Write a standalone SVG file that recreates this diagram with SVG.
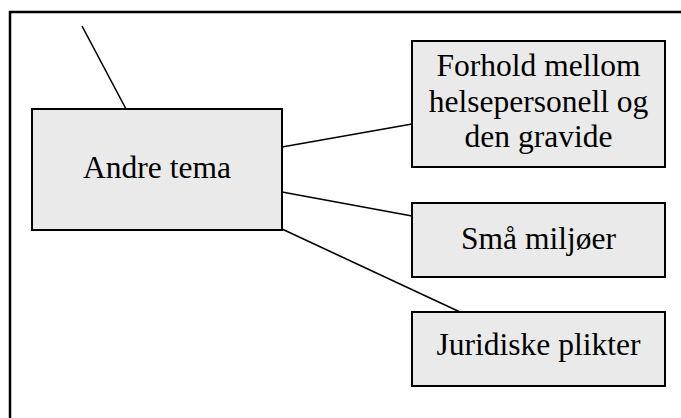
<svg xmlns="http://www.w3.org/2000/svg" width="681" height="418" viewBox="0 0 681 418">
  <style>
    .box { fill: #eaeaea; stroke: #000; stroke-width: 2; }
    .lbl { font-family: "Liberation Serif", "Times New Roman", serif; font-size: 31.5px; fill: #000; text-anchor: middle; }
    .link { stroke: #000; stroke-width: 1.6; fill: none; }
  </style>
  <rect width="681" height="418" fill="#fff"/>
  <!-- outer frame, extends past right and bottom edges -->
  <rect x="10" y="12" width="700" height="440" fill="none" stroke="#000" stroke-width="2.5"/>

  <g id="connectors">
    <line class="link" x1="82" y1="26" x2="126" y2="109"/>
    <line class="link" x1="282" y1="147" x2="412" y2="124"/>
    <line class="link" x1="282" y1="192" x2="412" y2="216"/>
    <line class="link" x1="282" y1="229" x2="460" y2="312"/>
  </g>

  <g id="andre-tema">
    <rect class="box" x="32" y="109" width="250" height="121"/>
    <text class="lbl" x="157" y="178">Andre tema</text>
  </g>

  <g id="forhold">
    <rect class="box" x="412" y="41" width="253" height="126"/>
    <text class="lbl" x="538.5" y="76">Forhold mellom</text>
    <text class="lbl" x="538.5" y="112">helsepersonell og</text>
    <text class="lbl" x="538.5" y="147">den gravide</text>
  </g>

  <g id="sma-miljoer">
    <rect class="box" x="412" y="203" width="253" height="74"/>
    <text class="lbl" x="538.5" y="249">Små miljøer</text>
  </g>

  <g id="juridiske-plikter">
    <rect class="box" x="412" y="312" width="253" height="74"/>
    <text class="lbl" x="538.5" y="355">Juridiske plikter</text>
  </g>
</svg>
